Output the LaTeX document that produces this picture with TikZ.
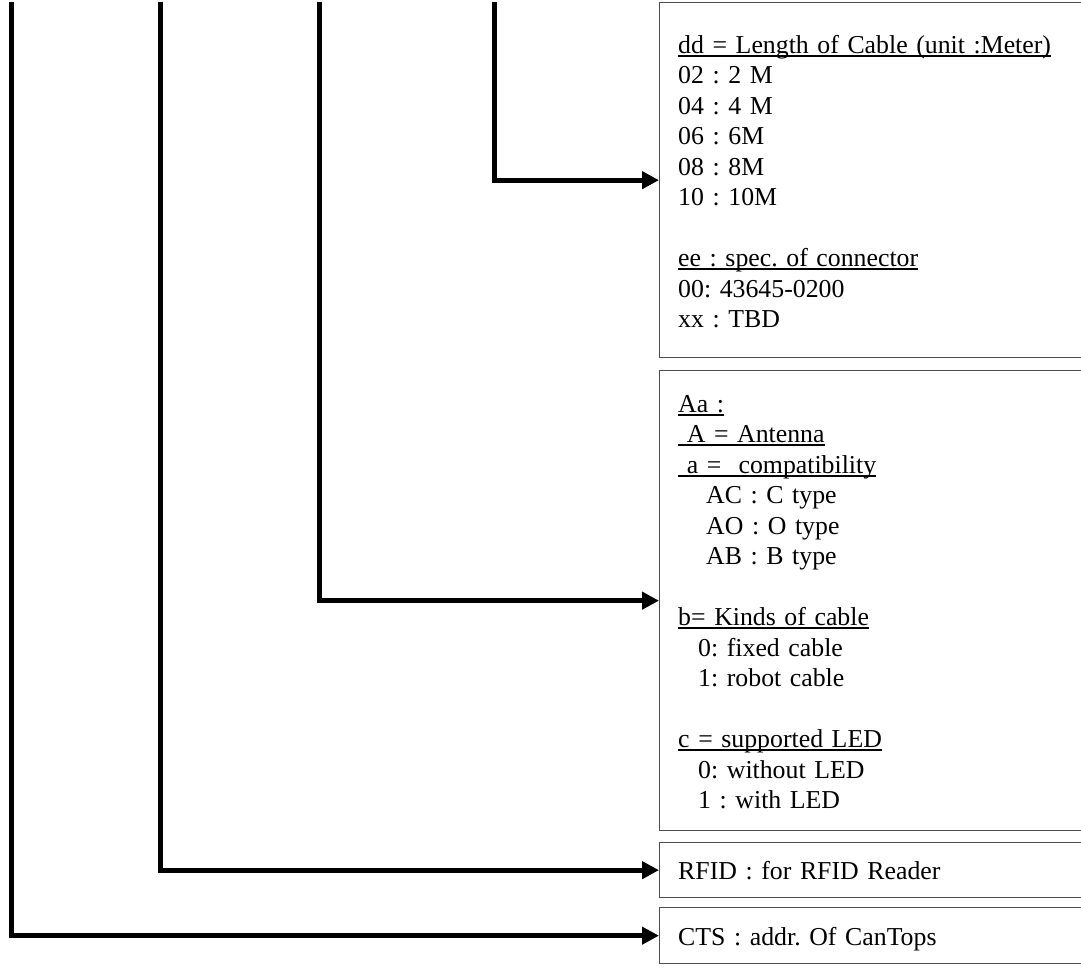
\documentclass[tikz,border=0pt]{standalone}
\usepackage{fontspec}
\setmainfont{Liberation Serif}
\usetikzlibrary{arrows.meta}
\newcommand\myul[1]{\leavevmode\setbox0=\hbox{#1}\rlap{\rule[-3.5pt]{\wd0}{1.7pt}}\box0}
\begin{document}
\begin{tikzpicture}[x=1pt,y=-1pt,
  box/.style={draw=black!70,line width=1.3pt,rectangle,anchor=north west,inner sep=0pt,minimum width=460pt},
  txt/.style={anchor=base west,align=left,text width=410pt,inner sep=0pt,font=\fontsize{25.8}{30.5}\selectfont\frenchspacing},
  arr/.style={line width=5pt,-{Triangle[length=17pt,width=17pt]},line join=miter}]
\clip (0,0) rectangle (1081,967);
% boxes
\node[box,minimum height=355pt] (b1) at (659,2) {};
\node[box,minimum height=460pt] (b2) at (659,370) {};
\node[box,minimum height=55pt] (b3) at (659,842) {};
\node[box,minimum height=56pt] (b4) at (659,907) {};
% texts
\node[txt] (t1) at (678,53) {\myul{dd = Length of Cable (unit :Meter)}\\
02 : 2 M\\
04 : 4 M\\
06 : 6M\\
08 : 8M\\
10 : 10M\\
\mbox{}\\
\myul{ee : spec. of connector}\\
00: 43645-0200\\
xx : TBD};
\node[txt] (t2) at (678,412) {\myul{Aa :}\\
\myul{\ A = Antenna}\\
\myul{\ a =\ \ compatibility}\\
\hspace*{28pt}AC : C type\\
\hspace*{28pt}AO : O type\\
\hspace*{28pt}AB : B type\\
\mbox{}\\
\myul{b= Kinds of cable}\\
\hspace*{20pt}0: fixed cable\\
\hspace*{20pt}1: robot cable\\
\mbox{}\\
\myul{c = supported LED}\\
\hspace*{20pt}0: without LED\\
\hspace*{20pt}1 : with LED};
\node[txt] (t3) at (678,879) {RFID : for RFID Reader};
\node[txt] (t4) at (678,945) {CTS : addr. Of CanTops};
% connectors
\coordinate (v1) at (494,2);
\coordinate (v2) at (319,2);
\coordinate (v3) at (160,2);
\coordinate (v4) at (11,2);
\draw[arr] (v1) |- (b1.west);
\draw[arr] (v2) |- (b2.west);
\draw[arr] (v3) |- (b3.west);
\draw[arr] (v4) |- (b4.west);
\end{tikzpicture}
\end{document}
